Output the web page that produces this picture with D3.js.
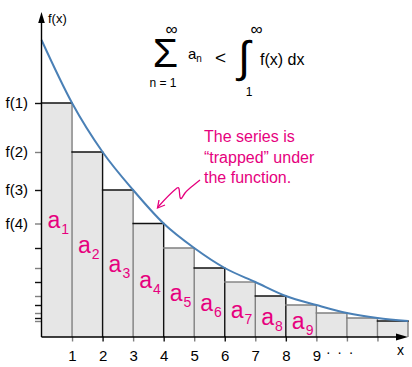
<!DOCTYPE html>
<html><head><meta charset="utf-8">
<script src="https://cdn.jsdelivr.net/npm/d3@7"></script>
<style>
html,body{margin:0;padding:0;background:#fff;}
svg{display:block;font-family:"Liberation Sans",Arial,Helvetica,sans-serif;}
</style></head>
<body>
<svg id="chart" width="412" height="367"></svg>
<script>
// ---- data ----
const nValues = [1,2,3,4,5,6,7,8,9,10,11,12];
const fValues = [234,185,147,113.5,89,69,55,41,32,24,19,16];   // f(n), bar heights
const f0 = 297;                                                 // f(0)
const yTickLabels = ["f(1)","f(2)","f(3)","f(4)"];
const xTickLabels = ["1","2","3","4","5","6","7","8","9"];
const xTickValues = [1,2,3,4,5,6,7,8,9,10,11];
const barLabelCount = 9;
const noteLines = ["The series is","\u201Ctrapped\u201D under","the function."];

const MAG = "#e6007e", BLUE = "#4a80b6", FILL = "#e6e6e6", GRAY = "#7f7f7f", DARK = "#111";

const svg = d3.select("#chart");
const x = d3.scaleLinear().domain([0,12]).range([41.5,408]);
const y = d3.scaleLinear().domain([0,300]).range([337,37]);

const bars = nValues.map((n,i)=>({n, v:fValues[i]}));

// bar fills
svg.append("g").selectAll("rect").data(bars).join("rect")
  .attr("x", d=>x(d.n-1)).attr("width", d=>x(d.n)-x(d.n-1))
  .attr("y", d=>y(d.v)).attr("height", d=>y(0)-y(d.v))
  .attr("fill", FILL);

const vColor = n => (n%2===1 || n>=9) ? GRAY : DARK;
const tColor = n => (n<=3 || (n%2===0 && n<9) || n===12) ? DARK : GRAY;

// vertical edges (right side of each bar)
svg.append("g").selectAll("line").data(bars).join("line")
  .attr("x1", d=>x(d.n)).attr("x2", d=>x(d.n))
  .attr("y1", y(0)).attr("y2", d=>y(d.v))
  .attr("stroke", d=>vColor(d.n)).attr("stroke-width",1.4);

// top edges
svg.append("g").selectAll("line").data(bars).join("line")
  .attr("x1", d=>x(d.n-1)-0.7).attr("x2", d=>x(d.n)+0.7)
  .attr("y1", d=>y(d.v)).attr("y2", d=>y(d.v))
  .attr("stroke", d=>tColor(d.n)).attr("stroke-width",1.4);

// curve
const curvePts = [{n:0, v:f0}].concat(bars);
svg.append("path").datum(curvePts)
  .attr("d", d3.line().x(d=>x(d.n)).y(d=>y(d.v)).curve(d3.curveMonotoneX))
  .attr("fill","none").attr("stroke",BLUE).attr("stroke-width",2);

// y axis ticks
const yAxis = d3.axisLeft(y).tickValues(fValues).tickSize(6).tickPadding(7)
  .tickFormat((d,i)=> i<yTickLabels.length ? yTickLabels[i] : "");
const gy = svg.append("g").attr("transform",`translate(${x(0)-0.5},0)`).call(yAxis);
gy.select(".domain").remove();
gy.selectAll(".tick line").attr("stroke",(d,i)=> i%2===1 ? GRAY : DARK).attr("stroke-width",1.4);
gy.selectAll(".tick text").attr("font-size",15).attr("fill","#000")
  .attr("font-family","Liberation Sans, Arial, sans-serif");

// x axis ticks
const xAxis = d3.axisBottom(x).tickValues(xTickValues).tickSize(5).tickPadding(9)
  .tickFormat((d,i)=> i<xTickLabels.length ? xTickLabels[i] : "");
const gx = svg.append("g").attr("transform",`translate(0,${y(0)-0.5})`).call(xAxis);
gx.select(".domain").remove();
gx.selectAll(".tick line").attr("stroke",d=>vColor(d)).attr("stroke-width",1.4);
gx.selectAll(".tick text").attr("font-size",15).attr("fill","#000")
  .attr("font-family","Liberation Sans, Arial, sans-serif");

// axis lines with arrows
svg.append("line").attr("x1",x(0)).attr("x2",x(0)).attr("y1",y(0)).attr("y2",22)
  .attr("stroke","#000").attr("stroke-width",1.4);
svg.append("path").attr("d",`M${x(0)},12 L${x(0)-3.3},23 L${x(0)+3.3},23 Z`).attr("fill","#000");
svg.append("line").attr("x1",x(0)).attr("x2",398).attr("y1",y(0)).attr("y2",y(0))
  .attr("stroke","#000").attr("stroke-width",1.4);
svg.append("path").attr("d",`M408,${y(0)} L396,${y(0)-3.5} L396,${y(0)+3.5} Z`).attr("fill","#000");

svg.append("text").attr("x",48).attr("y",23).attr("font-size",13).text("f(x)");
svg.append("text").attr("x",397).attr("y",355).attr("font-size",14).text("x");
svg.append("text").attr("x",326).attr("y",357).attr("font-size",14).attr("letter-spacing",1.4).text("· · ·");

// bar labels a_n
const lab = svg.append("g").attr("fill",MAG);
bars.slice(0,barLabelCount).forEach(d=>{
  const t = lab.append("text").attr("x", x(d.n-1)+6).attr("y", y(d.v/2)+8).attr("font-size",23);
  t.append("tspan").text("a");
  t.append("tspan").attr("font-size",14).attr("dy",6).attr("dx",1).text(String(d.n));
});

// formula
const fm = svg.append("g").attr("fill","#000");
fm.append("text").attr("x",165.5).attr("y",67).attr("font-size",41).attr("text-anchor","middle").text("Σ");
fm.append("text").attr("x",171.5).attr("y",35).attr("font-size",17).attr("text-anchor","middle").text("∞");
fm.append("text").attr("x",163).attr("y",87).attr("font-size",12).attr("text-anchor","middle").text("n = 1");
const an = fm.append("text").attr("x",188).attr("y",58.5).attr("font-size",15);
an.append("tspan").text("a");
an.append("tspan").attr("font-size",10).attr("dy",3).text("n");
fm.append("text").attr("x",215).attr("y",64).attr("font-size",19).text("<");
fm.append("text").attr("x",244).attr("y",72).attr("font-size",44).attr("font-weight",200)
  .attr("font-family","DejaVu Sans, sans-serif").attr("text-anchor","middle").text("∫");
fm.append("text").attr("x",256.5).attr("y",35).attr("font-size",17).attr("text-anchor","middle").text("∞");
fm.append("text").attr("x",249).attr("y",96).attr("font-size",12).attr("text-anchor","middle").text("1");
fm.append("text").attr("x",260).attr("y",65).attr("font-size",16).text("f(x) dx");

// annotation
const note = svg.append("text").attr("fill",MAG).attr("font-size",16);
noteLines.forEach((s,i)=> note.append("tspan").attr("x",204).attr("y",142+i*20.5).text(s));
svg.append("path")
  .attr("d","M200,180 C194,185 188,189 185,193 C182,197 181,201 180,197 C179,192 180,186 177,188 C172,192 166,198 158,207")
  .attr("fill","none").attr("stroke",MAG).attr("stroke-width",1.3);
svg.append("path").attr("d","M159,200 L157.5,208 L165,205")
  .attr("fill","none").attr("stroke",MAG).attr("stroke-width",1.3);
</script>
</body></html>
